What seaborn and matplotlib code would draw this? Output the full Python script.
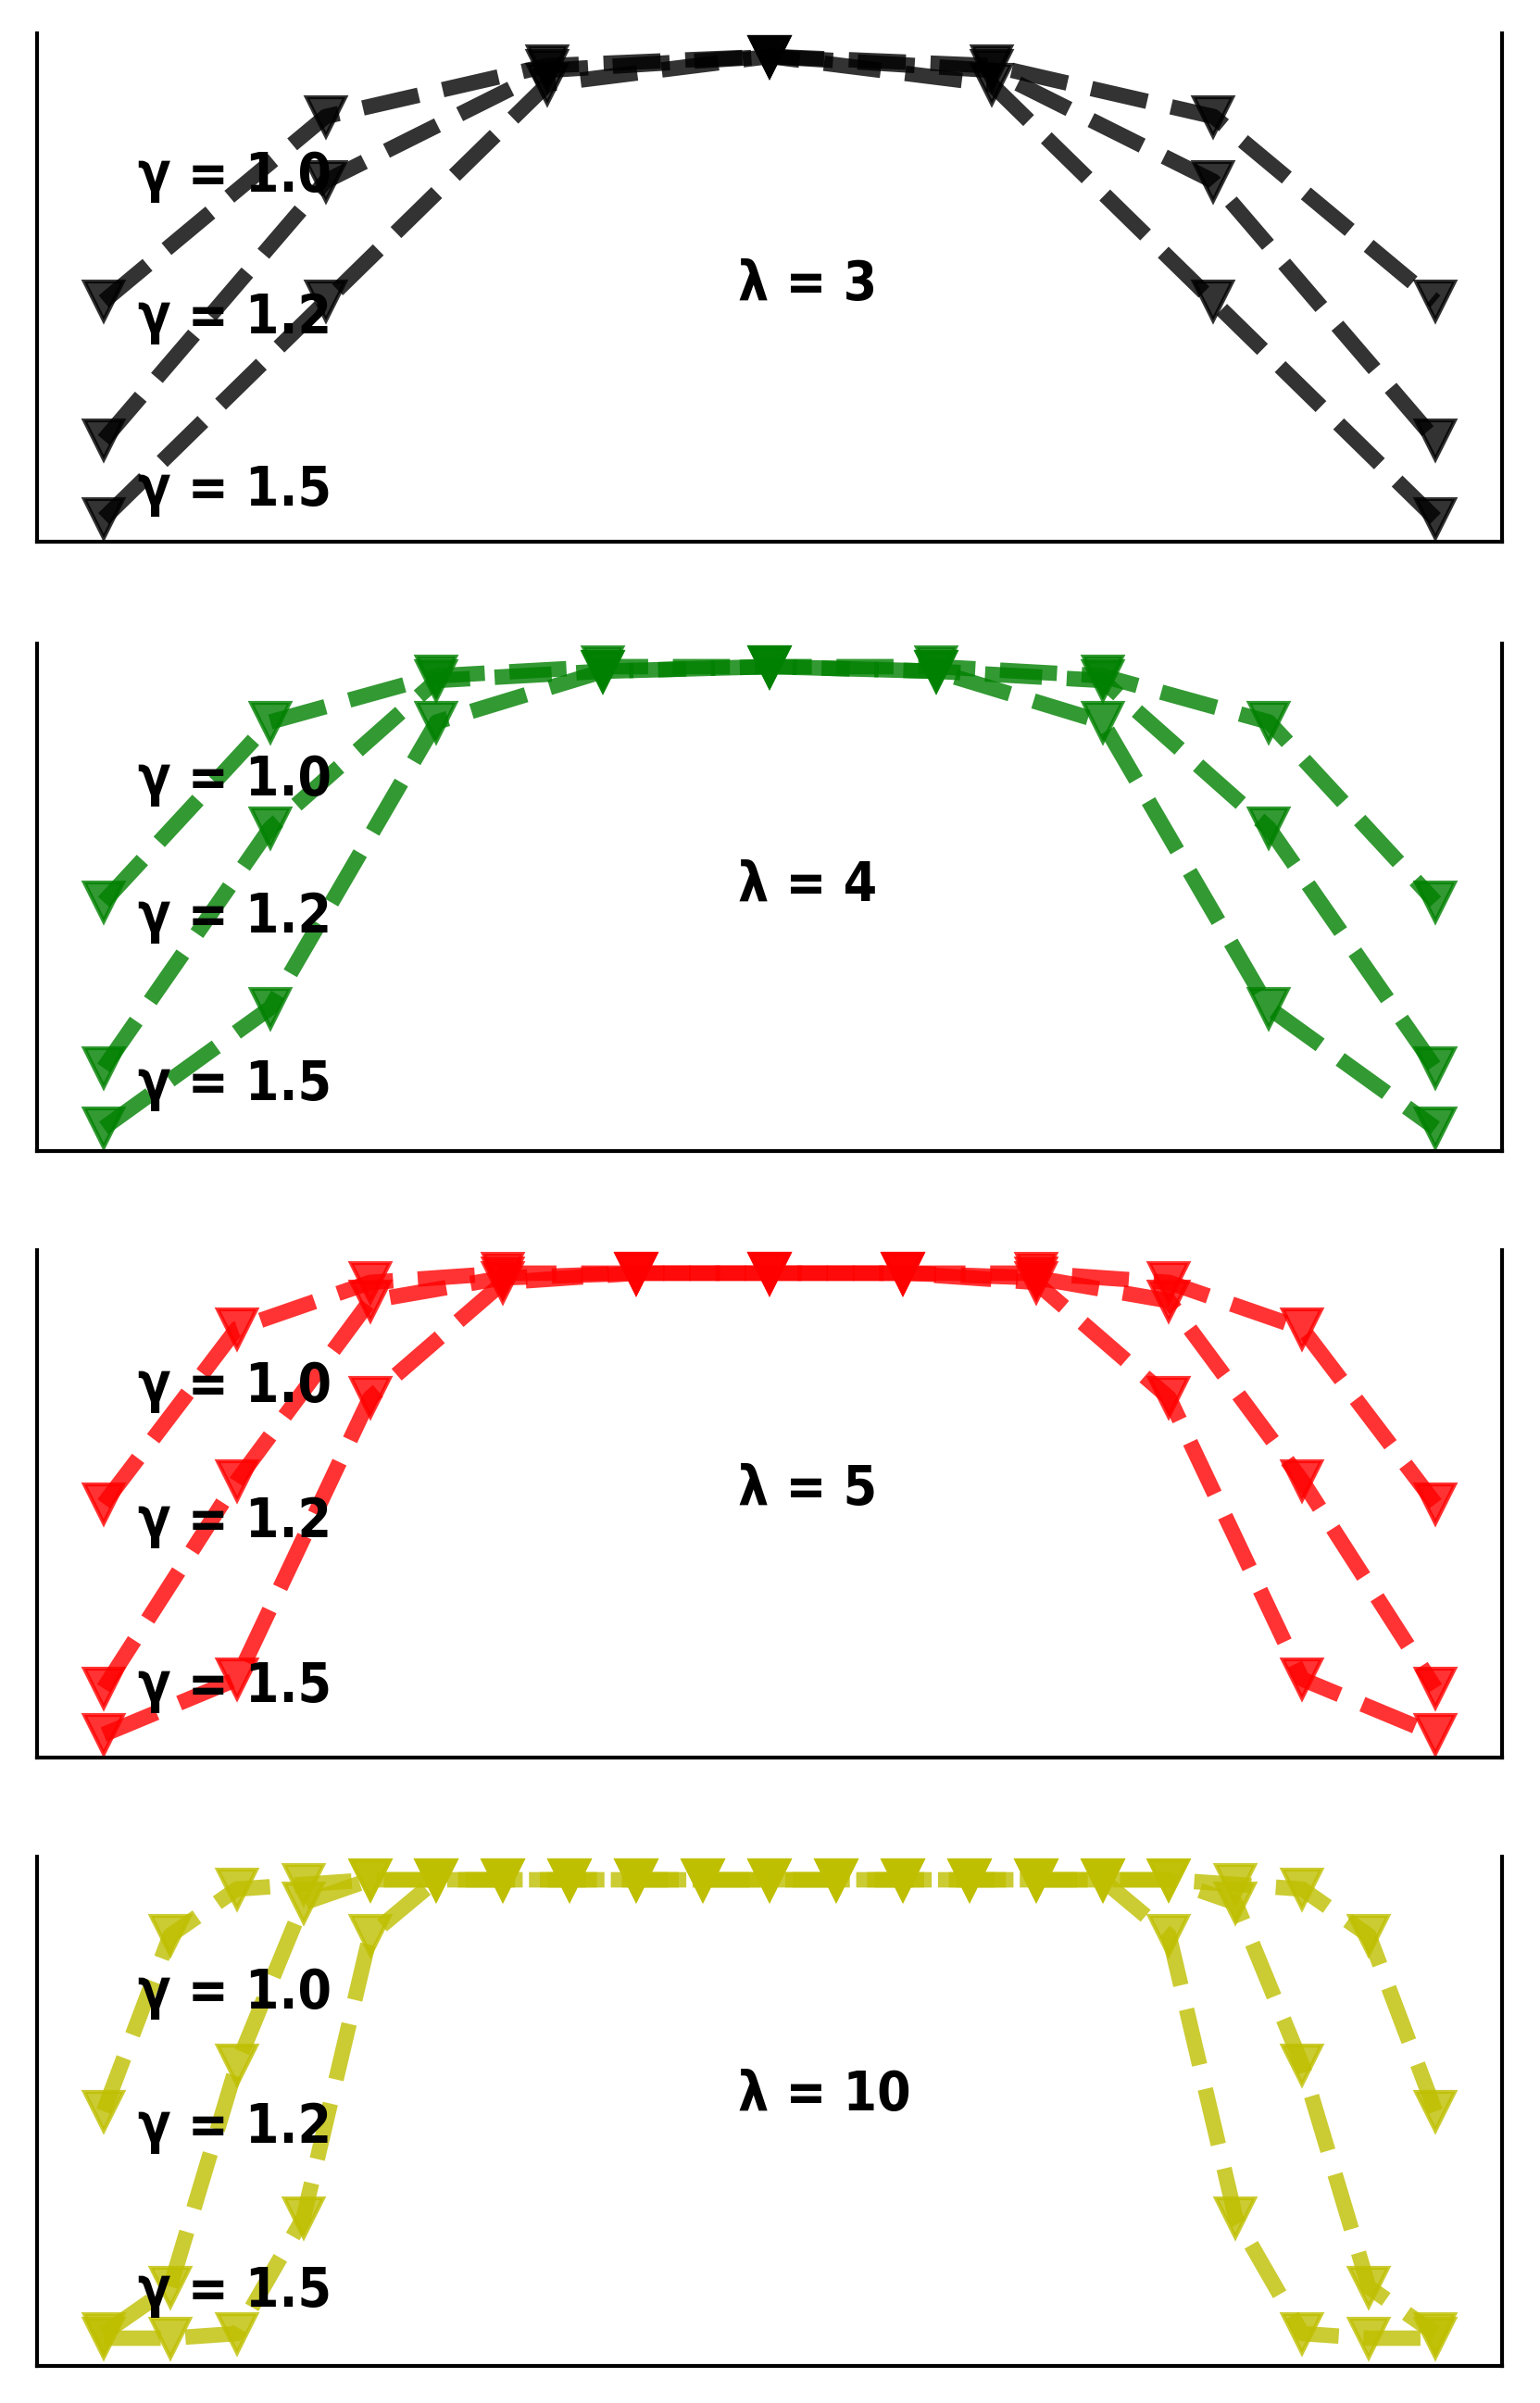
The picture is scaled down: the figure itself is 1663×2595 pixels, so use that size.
import matplotlib
matplotlib.use("Agg")
import matplotlib.pyplot as plt
import seaborn as sns
import pandas as pd

# ---------------- data ----------------
lambdas = [3, 4, 5, 10]
gammas = [1.0, 1.2, 1.5]
panel_colors = ['k', 'g', 'r', 'y']
gamma_labels = ['γ = 1.0', 'γ = 1.2', 'γ = 1.5']
lambda_labels = ['λ = 3', 'λ = 4', 'λ = 5', 'λ = 10']

x_l3 = [-3, -2, -1, 0, 1, 2, 3]
l3_g10 = [0.47, 0.87, 0.98, 1.00, 0.98, 0.87, 0.47]
l3_g12 = [0.17, 0.73, 0.97, 1.00, 0.97, 0.73, 0.17]
l3_g15 = [0.00, 0.47, 0.94, 1.00, 0.94, 0.47, 0.00]

x_l4 = [-4, -3, -2, -1, 0, 1, 2, 3, 4]
l4_g10 = [0.49, 0.88, 0.98, 1.00, 1.00, 1.00, 0.98, 0.88, 0.49]
l4_g12 = [0.13, 0.65, 0.97, 0.99, 1.00, 0.99, 0.97, 0.65, 0.13]
l4_g15 = [0.00, 0.26, 0.88, 0.99, 1.00, 0.99, 0.88, 0.26, 0.00]

x_l5 = [-5, -4, -3, -2, -1, 0, 1, 2, 3, 4, 5]
l5_g10 = [0.50, 0.88, 0.98, 1.00, 1.00, 1.00, 1.00, 1.00, 0.98, 0.88, 0.50]
l5_g12 = [0.10, 0.55, 0.94, 0.99, 1.00, 1.00, 1.00, 0.99, 0.94, 0.55, 0.10]
l5_g15 = [0.00, 0.12, 0.73, 0.98, 1.00, 1.00, 1.00, 0.98, 0.73, 0.12, 0.00]

x_l10 = [-10, -9, -8, -7, -6, -5, -4, -3, -2, -1, 0,
         1, 2, 3, 4, 5, 6, 7, 8, 9, 10]
l10_g10 = [0.50, 0.88, 0.98, 0.99, 1.00, 1.00, 1.00, 1.00, 1.00, 1.00, 1.00,
           1.00, 1.00, 1.00, 1.00, 1.00, 1.00, 0.99, 0.98, 0.88, 0.50]
l10_g12 = [0.02, 0.12, 0.60, 0.95, 1.00, 1.00, 1.00, 1.00, 1.00, 1.00, 1.00,
           1.00, 1.00, 1.00, 1.00, 1.00, 1.00, 0.95, 0.60, 0.12, 0.02]
l10_g15 = [0.01, 0.01, 0.02, 0.27, 0.88, 1.00, 1.00, 1.00, 1.00, 1.00, 1.00,
           1.00, 1.00, 1.00, 1.00, 1.00, 0.88, 0.27, 0.02, 0.01, 0.01]

panels = [
    (x_l3, [l3_g10, l3_g12, l3_g15]),
    (x_l4, [l4_g10, l4_g12, l4_g15]),
    (x_l5, [l5_g10, l5_g12, l5_g15]),
    (x_l10, [l10_g10, l10_g12, l10_g15]),
]

# ---------------- layout ----------------
W, H = 1663, 2595
DPI = 300
fig = plt.figure(figsize=(W / DPI, H / DPI), dpi=DPI)
fig.patch.set_facecolor('white')

left_px, right_px = 40, 1622
panel_px = [(36, 585), (695, 1243), (1350, 1898), (2005, 2555)]
gamma_label_y = [
    [0.688, 0.409, 0.071],
    [0.700, 0.430, 0.101],
    [0.701, 0.434, 0.110],
    [0.702, 0.439, 0.116],
]
lambda_label_y = [0.475, 0.493, 0.498, 0.502]
FS = 14
text_kw = dict(family='DejaVu Sans', fontstretch='condensed',
               fontsize=FS, fontweight='bold', ha='left', va='baseline',
               color='black')

for i, ((xs, series), color) in enumerate(zip(panels, panel_colors)):
    top, bot = panel_px[i]
    ax = fig.add_axes([left_px / W, (H - bot) / H,
                       (right_px - left_px) / W, (bot - top) / H])
    for g, ys in zip(gammas, series):
        df = pd.DataFrame({'x': xs, 'y': ys})
        sns.lineplot(data=df, x='x', y='y', ax=ax, color=color,
                     linestyle='--', linewidth=4, marker='v',
                     markersize=10, markeredgecolor=color,
                     markeredgewidth=1.0, alpha=0.8, legend=False,
                     errorbar=None, sort=False)
    ax.set_ylim(-0.05, 1.05)
    ax.set_xticks([])
    ax.set_yticks([])
    ax.set_xlabel('')
    ax.set_ylabel('')
    sns.despine(ax=ax, top=True, right=False, left=False, bottom=False)
    for s in ['left', 'right', 'bottom']:
        ax.spines[s].set_linewidth(1.0)
        ax.spines[s].set_color('black')
    for lbl, yy in zip(gamma_labels, gamma_label_y[i]):
        ax.text(0.0686, yy, lbl, transform=ax.transAxes, **text_kw)
    ax.text(0.4785, lambda_label_y[i], lambda_labels[i],
            transform=ax.transAxes, **text_kw)

fig.savefig('out.png', dpi=DPI, facecolor='white')
